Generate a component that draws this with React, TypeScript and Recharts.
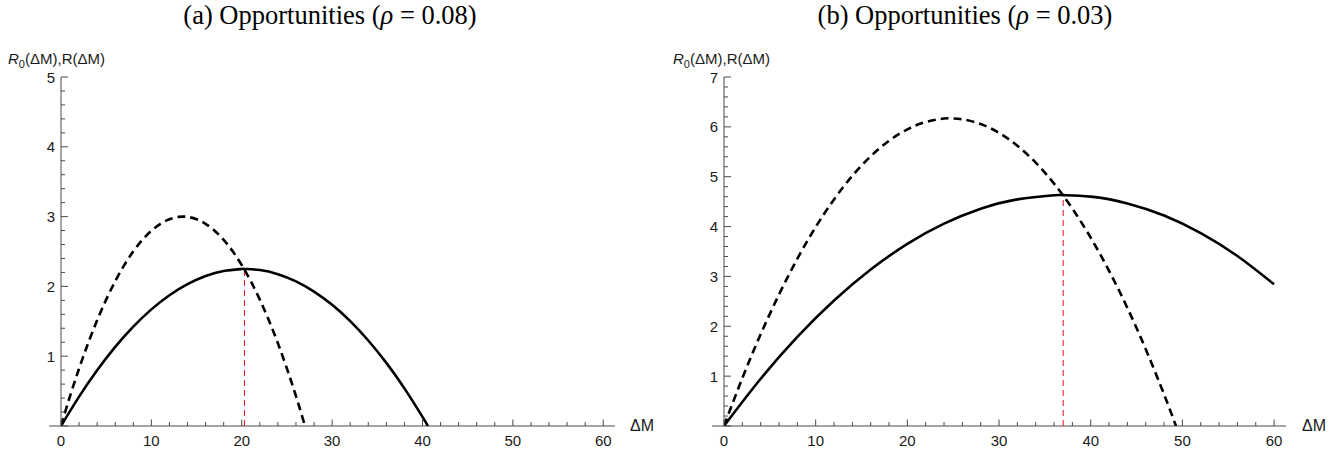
import React from 'react';
import { LineChart, Line, XAxis, YAxis, ReferenceLine } from 'recharts';

// ---- Data ----
const xMajorLabels = [0, 10, 20, 30, 40, 50, 60];
const yMajorLabelsA = [0, 1, 2, 3, 4, 5];
const yMajorLabelsB = [0, 1, 2, 3, 4, 5, 6, 7];

// Panel (a) rho = 0.08
const r0A = [
  { x: 0, y: 0 }, { x: 1, y: 0.428 }, { x: 2, y: 0.823 }, { x: 3, y: 1.185 }, { x: 4, y: 1.514 },
  { x: 5, y: 1.811 }, { x: 6, y: 2.074 }, { x: 7, y: 2.305 }, { x: 8, y: 2.502 }, { x: 9, y: 2.667 },
  { x: 10, y: 2.798 }, { x: 11, y: 2.897 }, { x: 12, y: 2.963 }, { x: 13, y: 2.996 }, { x: 13.5, y: 3.0 },
  { x: 14, y: 2.996 }, { x: 15, y: 2.963 }, { x: 16, y: 2.897 }, { x: 17, y: 2.798 }, { x: 18, y: 2.667 },
  { x: 19, y: 2.502 }, { x: 20, y: 2.305 }, { x: 21, y: 2.074 }, { x: 22, y: 1.811 }, { x: 23, y: 1.514 },
  { x: 24, y: 1.185 }, { x: 25, y: 0.823 }, { x: 26, y: 0.428 }, { x: 27, y: 0 },
];
const rA = [
  { x: 0, y: 0 }, { x: 2, y: 0.4215 }, { x: 4, y: 0.799 }, { x: 6, y: 1.134 }, { x: 8, y: 1.424 },
  { x: 10, y: 1.671 }, { x: 12, y: 1.874 }, { x: 14, y: 2.033 }, { x: 16, y: 2.149 }, { x: 18, y: 2.221 },
  { x: 20, y: 2.2495 }, { x: 20.3, y: 2.25 }, { x: 22, y: 2.234 }, { x: 24, y: 2.175 }, { x: 26, y: 2.073 },
  { x: 28, y: 1.926 }, { x: 30, y: 1.736 }, { x: 32, y: 1.503 }, { x: 34, y: 1.225 }, { x: 36, y: 0.904 },
  { x: 38, y: 0.539 }, { x: 40, y: 0.131 }, { x: 40.6, y: 0 },
];
const optimumA = { x: 20.3, y: 2.25 };

// Panel (b) rho = 0.03
const r0B = [
  { x: 0, y: 0 }, { x: 2, y: 0.961 }, { x: 4, y: 1.84 }, { x: 6, y: 2.638 }, { x: 8, y: 3.355 },
  { x: 10, y: 3.991 }, { x: 12, y: 4.545 }, { x: 14, y: 5.018 }, { x: 16, y: 5.41 }, { x: 18, y: 5.721 },
  { x: 20, y: 5.95 }, { x: 22, y: 6.098 }, { x: 24, y: 6.166 }, { x: 24.65, y: 6.17 }, { x: 26, y: 6.151 },
  { x: 28, y: 6.056 }, { x: 30, y: 5.879 }, { x: 32, y: 5.621 }, { x: 34, y: 5.282 }, { x: 36, y: 4.862 },
  { x: 38, y: 4.36 }, { x: 40, y: 3.777 }, { x: 42, y: 3.113 }, { x: 44, y: 2.368 }, { x: 46, y: 1.541 },
  { x: 48, y: 0.634 }, { x: 49.3, y: 0 },
];
const rB = [
  { x: 0, y: 0 }, { x: 4, y: 0.947 }, { x: 8, y: 1.786 }, { x: 12, y: 2.516 }, { x: 16, y: 3.138 },
  { x: 20, y: 3.653 }, { x: 24, y: 4.058 }, { x: 28, y: 4.356 }, { x: 32, y: 4.545 }, { x: 36, y: 4.627 },
  { x: 37, y: 4.63 }, { x: 40, y: 4.6 }, { x: 44, y: 4.464 }, { x: 48, y: 4.221 }, { x: 52, y: 3.869 },
  { x: 56, y: 3.409 }, { x: 60, y: 2.841 },
];
const optimumB = { x: 37, y: 4.63 };

const titleA = '(a) Opportunities (';
const titleB = '(b) Opportunities (';
const rhoA = '0.08';
const rhoB = '0.03';

// minor tick positions between the labelled ones (every 1/5 of a major step)
const withMinor = (majors: number[]) => {
  const out: number[] = [];
  for (let i = 0; i < majors.length; i++) {
    out.push(majors[i]);
    if (i < majors.length - 1) {
      const step = (majors[i + 1] - majors[i]) / 5;
      for (let k = 1; k < 5; k++) out.push(Math.round((majors[i] + k * step) * 1000) / 1000);
    }
  }
  return out;
};

const AXIS = '#4a4a4a';
const SANS = '"Liberation Sans", Arial, sans-serif';
const SERIF = '"Liberation Serif", "DejaVu Serif", serif';

const XTick = (props: any) => {
  const { x, y, payload } = props;
  const v = payload.value;
  const major = xMajorLabels.includes(v);
  return (
    <g>
      <line x1={x} y1={y} x2={x} y2={y - (major ? 6.5 : 4)} stroke={AXIS} strokeWidth={1} />
      {major && (
        <text x={x} y={y + 20} textAnchor="middle" fontFamily={SANS} fontSize={15} fill="#1a1a1a">
          {v}
        </text>
      )}
    </g>
  );
};

const makeYTick = (majors: number[]) => (props: any) => {
  const { x, y, payload } = props;
  const v = payload.value;
  const major = majors.includes(v);
  return (
    <g>
      <line x1={x} y1={y} x2={x + (major ? 7 : 4)} y2={y} stroke={AXIS} strokeWidth={1} />
      {major && v > 0 && (
        <text x={x - 6} y={y + 5.5} textAnchor="end" fontFamily={SANS} fontSize={15} fill="#1a1a1a">
          {v}
        </text>
      )}
    </g>
  );
};

const YLabel = ({ left }: { left: number }) => (
  <div
    style={{
      position: 'absolute',
      left,
      top: 50,
      lineHeight: '18px',
      fontFamily: SANS,
      fontSize: 15,
      color: '#1a1a1a',
      whiteSpace: 'nowrap',
    }}
  >
    <i>R</i>
    <sub style={{ fontSize: 11, lineHeight: 0 }}>0</sub>(ΔM),R(ΔM)
  </div>
);

const Title = ({ text, rho, center }: { text: string; rho: string; center: number }) => (
  <div
    style={{
      position: 'absolute',
      left: center - 250,
      width: 500,
      top: 0,
      lineHeight: '30px',
      textAlign: 'center',
      fontFamily: SERIF,
      fontSize: 26.5,
      color: '#000',
      whiteSpace: 'nowrap',
    }}
  >
    {text}
    <i>ρ</i> = {rho})
  </div>
);

type PanelProps = {
  r0: { x: number; y: number }[];
  r: { x: number; y: number }[];
  opt: { x: number; y: number };
  yMajors: number[];
  margin: { top: number; left: number; right: number; bottom: number };
};

const Panel = ({ r0, r, opt, yMajors, margin }: PanelProps) => {
  const YTick = makeYTick(yMajors);
  return (
    <LineChart width={669} height={454} margin={margin} style={{ overflow: 'visible' }}>
      <XAxis
        type="number"
        dataKey="x"
        domain={[0, 61.3]}
        ticks={withMinor(xMajorLabels)}
        interval={0}
        tickSize={0}
        tickMargin={0}
        tickLine={false}
        axisLine={false}
        tick={<XTick />}
        height={1}
        allowDataOverflow
      />
      <YAxis
        type="number"
        dataKey="y"
        domain={[yMajors[0], yMajors[yMajors.length - 1]]}
        ticks={withMinor(yMajors)}
        interval={0}
        tickSize={0}
        tickMargin={0}
        tickLine={false}
        axisLine={{ stroke: AXIS, strokeWidth: 1 }}
        tick={<YTick />}
        width={1}
        allowDataOverflow
      />
      <ReferenceLine
        segment={[{ x: -1.3, y: 0 }, { x: 61.3, y: 0 }]}
        stroke={AXIS}
        strokeWidth={1}
        ifOverflow="visible"
      />
      <ReferenceLine
        segment={[{ x: opt.x, y: 0 }, { x: opt.x, y: opt.y }]}
        stroke="#e8141c"
        strokeWidth={1}
        strokeDasharray="6 4"
        ifOverflow="visible"
      />
      <Line
        data={r0}
        dataKey="y"
        type="natural"
        stroke="#000"
        strokeWidth={2.6}
        strokeDasharray="8 5"
        dot={false}
        activeDot={false}
        isAnimationActive={false}
      />
      <Line
        data={r}
        dataKey="y"
        type="natural"
        stroke="#000"
        strokeWidth={2.6}
        dot={false}
        activeDot={false}
        isAnimationActive={false}
      />
    </LineChart>
  );
};

const DeltaM = ({ left }: { left: number }) => (
  <div style={{ position: 'absolute', left, top: 416, lineHeight: '20px', fontFamily: SANS, fontSize: 16, color: '#1a1a1a' }}>ΔM</div>
);

export default function App() {
  return (
    <div style={{ position: 'absolute', left: 0, top: 0, width: 1338, height: 454, background: '#fff', overflow: 'hidden' }}>
      <Title text={titleA} rho={rhoA} center={330} />
      <Title text={titleB} rho={rhoB} center={965} />
      <YLabel left={8} />
      <YLabel left={673} />
      <DeltaM left={630} />
      <DeltaM left={1302} />
      <div style={{ position: 'absolute', left: 0, top: 0 }}>
        <Panel r0={r0A} r={rA} opt={optimumA} yMajors={yMajorLabelsA} margin={{ top: 77, left: 60, right: 54, bottom: 27 }} />
      </div>
      <div style={{ position: 'absolute', left: 669, top: 0 }}>
        <Panel r0={r0B} r={rB} opt={optimumB} yMajors={yMajorLabelsB} margin={{ top: 77, left: 54, right: 52, bottom: 27 }} />
      </div>
    </div>
  );
}
